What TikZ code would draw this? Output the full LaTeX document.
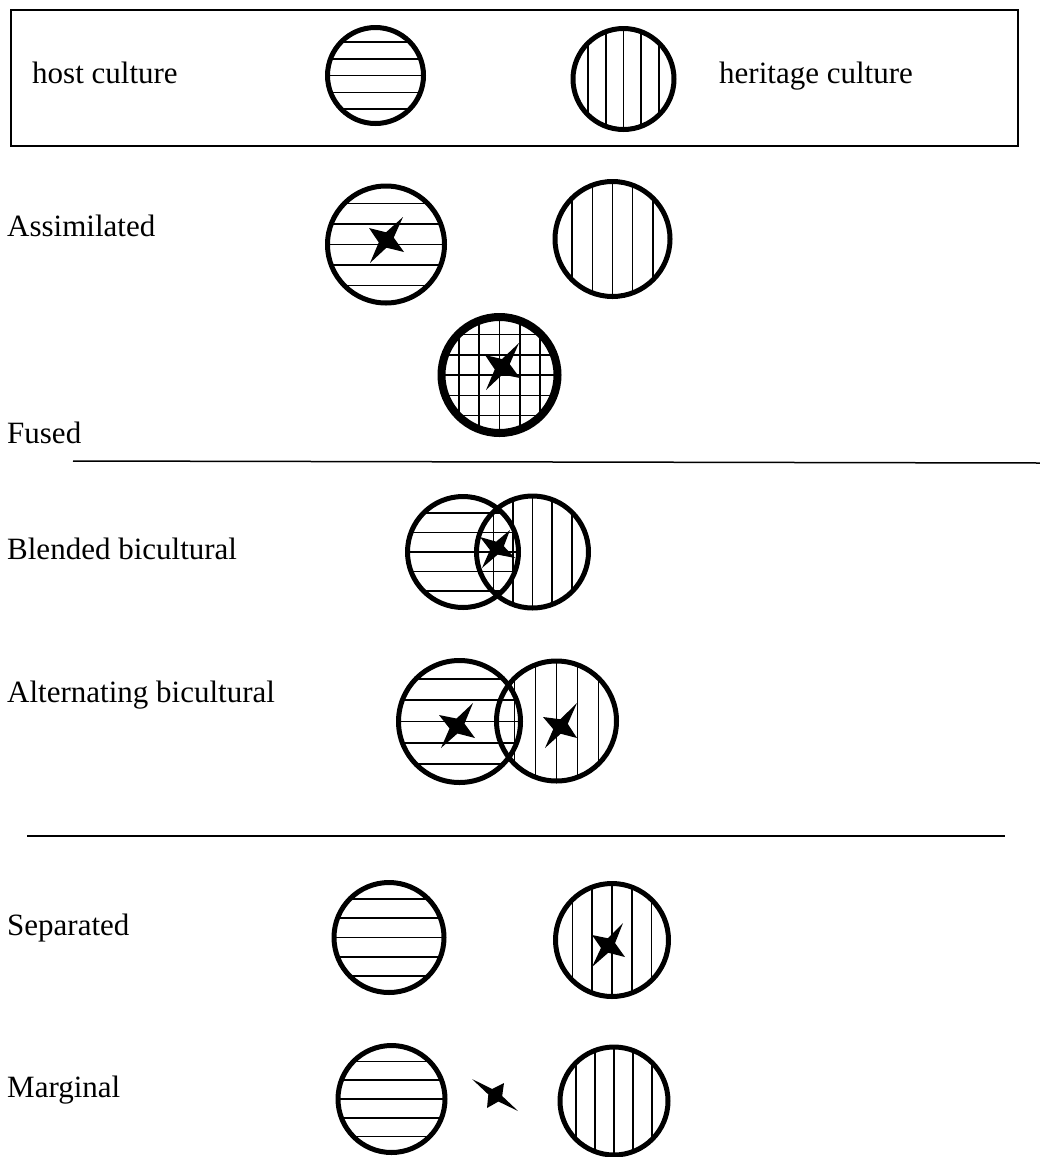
\documentclass[tikz,border=0pt]{standalone}
\usepackage{fontspec}
\setmainfont{Liberation Serif}
\usetikzlibrary{calc}

\tikzset{
  x=1pt, y=-1pt,
  labeltext/.style={anchor=base west, inner sep=0pt, font=\fontsize{31}{37}\selectfont},
  hatch/.style={line width=1.6pt},
  rule/.style={line width=1.5pt},
  disc/.style={circle, draw, line width=5pt, inner sep=0pt, minimum size=#1},
  % host culture: horizontal stripes
  host/.style={disc=#1, path picture={
      \foreach \k in {-2,...,2}
        \draw[hatch] ([yshift=\k*0.175*#1 pt]path picture bounding box.west)
                  -- ([yshift=\k*0.175*#1 pt]path picture bounding box.east);}},
  % heritage culture: vertical stripes
  heritage/.style={disc=#1, path picture={
      \foreach \k in {-2,...,2}
        \draw[hatch] ([xshift=\k*0.175*#1 pt]path picture bounding box.north)
                  -- ([xshift=\k*0.175*#1 pt]path picture bounding box.south);}},
  % fused: both stripe sets, heavier rim
  fused/.style={disc=#1, line width=8pt, path picture={
      \foreach \k in {-2,...,2}{
        \draw[hatch] ([yshift=\k*0.175*#1 pt]path picture bounding box.west)
                  -- ([yshift=\k*0.175*#1 pt]path picture bounding box.east);
        \draw[hatch] ([xshift=\k*0.175*#1 pt]path picture bounding box.north)
                  -- ([xshift=\k*0.175*#1 pt]path picture bounding box.south);}}},
}

% four-pointed spark: centre, then the four tip offsets in turn
\newcommand\spark[5]{%
  \fill[line join=round]
    ($#1+#2$) -- ($#1+0.22*#2+0.22*#3$) --
    ($#1+#3$) -- ($#1+0.22*#3+0.22*#4$) --
    ($#1+#4$) -- ($#1+0.22*#4+0.22*#5$) --
    ($#1+#5$) -- ($#1+0.22*#5+0.22*#2$) -- cycle;}

\begin{document}
\begin{tikzpicture}
\useasboundingbox (0,0) rectangle (1040,1157);

% legend
\coordinate (keyNW) at (11,10);
\coordinate (keySE) at (1018,146);
\draw[rule] (keyNW) rectangle (keySE);
\node[labeltext] (tHost) at (32,83) {host culture};
\node[labeltext] (tHeritage) at (719,83) {heritage culture};
\node[host=96] (kHost) at (375.5,75.5) {};
\node[heritage=101] (kHeritage) at (623.5,79) {};

% assimilated
\node[labeltext] (tAssim) at (7,236) {Assimilated};
\node[host=117] (aHost) at (386,244.5) {};
\node[heritage=115] (aHeritage) at (612.5,239) {};
\spark{(386,240)}{(17,-23)}{(18,12)}{(-16,23)}{(-17,-12)}

% fused
\node[labeltext] (tFused) at (7,443) {Fused};
\node[fused=116] (fDisc) at (499.5,375) {};
\spark{(502,367)}{(17,-24)}{(18,11)}{(-16,23)}{(-17,-12)}

\coordinate (ruleAL) at (73,461);
\coordinate (ruleAR) at (1040,463);
\draw[rule] (ruleAL) -- (ruleAR);

% blended bicultural
\node[labeltext] (tBlend) at (7,559) {Blended bicultural};
\node[host=111] (bHost) at (463,552) {};
\node[heritage=112] (bHeritage) at (532.5,552) {};
\spark{(497,548)}{(13,-18)}{(18,10)}{(-15,20)}{(-17,-11)}

% alternating bicultural
\node[labeltext] (tAlt) at (7,702) {Alternating bicultural};
\node[host=122] (altHost) at (459.5,721.5) {};
\node[heritage=120] (altHeritage) at (556.5,721) {};
\spark{(457,726)}{(16,-23)}{(18,12)}{(-16,22)}{(-18,-11)}
\spark{(560.5,726.5)}{(16.5,-23.5)}{(16.5,11.5)}{(-15.5,21.5)}{(-17.5,-9.5)}

\coordinate (ruleBL) at (27,836);
\coordinate (ruleBR) at (1005,836);
\draw[rule] (ruleBL) -- (ruleBR);

% separated
\node[labeltext] (tSep) at (7,935) {Separated};
\node[host=110] (sHost) at (389,937.5) {};
\node[heritage=113] (sHeritage) at (612,940) {};
\spark{(608,945.5)}{(15,-22.5)}{(17,11.5)}{(-16,21.5)}{(-16,-10.5)}

% marginal
\node[labeltext] (tMarg) at (7,1097) {Marginal};
\node[host=107] (mHost) at (391.5,1099) {};
\node[heritage=108] (mHeritage) at (614,1101) {};
\spark{(495.25,1095.25)}{(8.75,-12.25)}{(22.75,15.75)}{(-8.25,12.75)}{(-23.25,-16.25)}
\end{tikzpicture}
\end{document}
